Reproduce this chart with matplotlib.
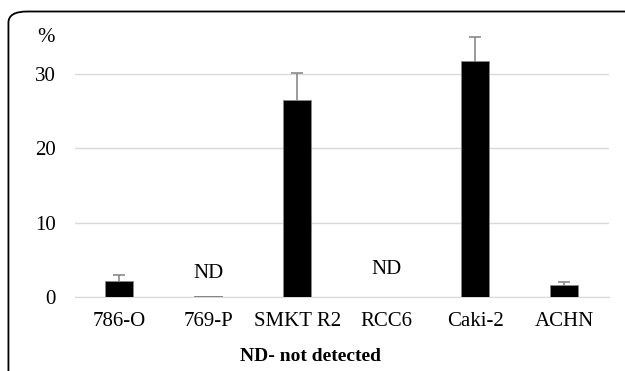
import matplotlib
matplotlib.use("Agg")
import matplotlib.pyplot as plt
from matplotlib.patches import FancyBboxPatch

# -----------------------------------
# DATA
# -----------------------------------

cell_lines = ["786-O", "769-P", "SMKT R2", "RCC6", "Caki-2", "ACHN"]
percent = [2.2, 0.15, 26.5, 0.0, 31.7, 1.6]
errors = [0.7, 0.0, 3.7, 0.0, 3.3, 0.4]
nd_lines = ["769-P", "RCC6"]
nd_heights = [3.2, 3.7]

plt.rcParams["font.family"] = ["Liberation Serif", "DejaVu Serif"]

fig = plt.figure(figsize=(6.25, 3.71), dpi=100)
ax = fig.add_axes([0.12, 0.1995, 0.854, 0.721])

x = list(range(len(cell_lines)))

ax.bar(
    x,
    percent,
    width=0.315,
    color="black",
    edgecolor="#888888",
    linewidth=0.6,
    zorder=3
)

# ERROR BARS (only where measured, lower half hidden behind bar)
ex = [i for i, e in zip(x, errors) if e > 0]
ey = [p for p, e in zip(percent, errors) if e > 0]
ee = [e for e in errors if e > 0]
ax.errorbar(
    ex,
    ey,
    yerr=ee,
    fmt="none",
    ecolor="#8a8a8a",
    elinewidth=1.2,
    capsize=4,
    capthick=1.2,
    zorder=2
)

# ND LABELS
for name, h in zip(nd_lines, nd_heights):
    ax.text(
        cell_lines.index(name),
        h,
        "ND",
        ha="center",
        va="center",
        fontsize=15
    )

ax.set_xlim(-0.5, 5.5)
ax.set_ylim(0, 36)
ax.set_yticks([0, 10, 20, 30])
ax.set_xticks(x)
ax.set_xticklabels(cell_lines)
ax.tick_params(axis="both", length=0, labelsize=15)
ax.tick_params(axis="x", pad=11)
ax.tick_params(axis="y", pad=14)

ax.grid(axis="y", color="#d9d9d9", linewidth=1, zorder=0)
for side in ["top", "right", "left"]:
    ax.spines[side].set_visible(False)
ax.spines["bottom"].set_color("#d9d9d9")

fig.text(0.06, 0.9, "%", fontsize=15, ha="left", va="center")
fig.text(0.496, 0.038, "ND- not detected", fontsize=14, fontweight="bold",
         ha="center", va="center")

# ROUNDED FRAME (right and bottom edges fall outside the picture)
frame = FancyBboxPatch(
    (0.0135, -0.2),
    1.1,
    1.169,
    boxstyle="round,pad=0,rounding_size=0.03",
    transform=fig.transFigure,
    fill=False,
    edgecolor="black",
    linewidth=1.3,
    clip_on=False
)
fig.patches.append(frame)

plt.savefig("out.png", dpi=100)
